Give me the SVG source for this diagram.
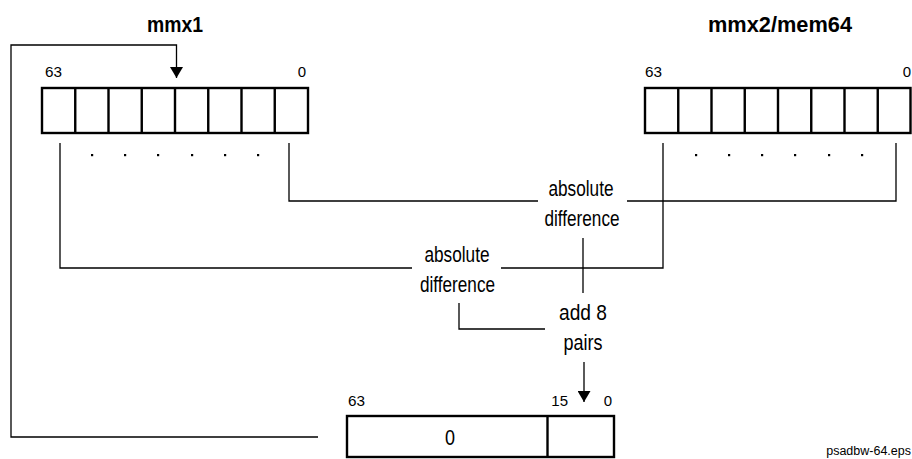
<svg xmlns="http://www.w3.org/2000/svg" width="912" height="459" viewBox="0 0 912 459">
<style>
  text { font-family: "Liberation Sans", Arial, sans-serif; fill: #000; }
  .title { font-size: 21.5px; font-weight: bold; text-anchor: middle; }
  .bit { font-size: 15px; }
  .op { font-size: 21.5px; text-anchor: middle; }
  .fname { font-size: 12.5px; text-anchor: end; }
  .box { fill: #fff; stroke: #000; stroke-width: 2.4; }
  .cell { stroke: #000; stroke-width: 2.4; }
  .dot { fill: #000; }
  .conn { fill: none; stroke: #000; stroke-width: 1.3; }
</style>
<defs>
  <marker id="ah" markerUnits="userSpaceOnUse" markerWidth="12" markerHeight="13" refX="11" refY="6.5" orient="auto">
    <path d="M0,0 L11,6.5 L0,13 z" fill="#000"/>
  </marker>
</defs>
<rect width="912" height="459" fill="#fff"/>

<g id="mmx1">
  <text class="title" x="175" y="32" textLength="56" lengthAdjust="spacingAndGlyphs">mmx1</text>
  <text class="bit" x="45" y="77" textLength="17" lengthAdjust="spacingAndGlyphs">63</text>
  <text class="bit" x="306" y="77" text-anchor="end">0</text>
  <rect class="box" x="42" y="88" width="266" height="45"/>
  <path class="cell" d="M75.25,88V133M108.5,88V133M141.75,88V133M175,88V133M208.25,88V133M241.5,88V133M274.75,88V133"/>
  <g class="dot">
    <rect x="91" y="154" width="2.2" height="2.2"/><rect x="124" y="154" width="2.2" height="2.2"/><rect x="157" y="154" width="2.2" height="2.2"/>
    <rect x="191" y="154" width="2.2" height="2.2"/><rect x="224" y="154" width="2.2" height="2.2"/><rect x="257" y="154" width="2.2" height="2.2"/>
  </g>
</g>

<g id="mmx2">
  <text class="title" x="780" y="32" textLength="144" lengthAdjust="spacingAndGlyphs">mmx2/mem64</text>
  <text class="bit" x="645" y="77" textLength="17" lengthAdjust="spacingAndGlyphs">63</text>
  <text class="bit" x="911" y="77" text-anchor="end">0</text>
  <rect class="box" x="645" y="88" width="265.5" height="45"/>
  <path class="cell" d="M678.25,88V133M711.5,88V133M744.75,88V133M778,88V133M811.25,88V133M844.5,88V133M877.75,88V133"/>
  <g class="dot">
    <rect x="695" y="154" width="2.2" height="2.2"/><rect x="728" y="154" width="2.2" height="2.2"/><rect x="761" y="154" width="2.2" height="2.2"/>
    <rect x="794" y="154" width="2.2" height="2.2"/><rect x="828" y="154" width="2.2" height="2.2"/><rect x="861" y="154" width="2.2" height="2.2"/>
  </g>
</g>

<g id="absdiff-upper">
  <text class="op" x="581" y="196" textLength="65" lengthAdjust="spacingAndGlyphs">absolute</text>
  <text class="op" x="582" y="226" textLength="75" lengthAdjust="spacingAndGlyphs">difference</text>
</g>

<g id="absdiff-lower">
  <text class="op" x="457" y="262" textLength="65" lengthAdjust="spacingAndGlyphs">absolute</text>
  <text class="op" x="457.5" y="292" textLength="75" lengthAdjust="spacingAndGlyphs">difference</text>
</g>

<g id="add8pairs">
  <text class="op" x="583" y="320" textLength="48" lengthAdjust="spacingAndGlyphs">add 8</text>
  <text class="op" x="583" y="350" textLength="39" lengthAdjust="spacingAndGlyphs">pairs</text>
</g>

<g id="result">
  <text class="bit" x="348" y="406" textLength="17" lengthAdjust="spacingAndGlyphs">63</text>
  <text class="bit" x="568" y="406" text-anchor="end">15</text>
  <text class="bit" x="612" y="406" text-anchor="end">0</text>
  <rect class="box" x="347" y="416" width="267" height="41"/>
  <path class="cell" d="M547.5,416V457"/>
  <text class="op" x="450" y="445" textLength="10" lengthAdjust="spacingAndGlyphs">0</text>
</g>

<g id="connectors">
  <path class="conn" d="M289,143V201H538M627,201H896V143"/>
  <path class="conn" d="M60,143V268H412M501,268H663V143"/>
  <path class="conn" d="M583,238V293"/>
  <path class="conn" d="M459,303V329H545"/>
  <path class="conn" d="M584,362V402" marker-end="url(#ah)"/>
  <path class="conn" d="M318,437H11V45H176.5V78" marker-end="url(#ah)"/>
</g>

<text class="fname" x="911" y="455">psadbw-64.eps</text>
</svg>
